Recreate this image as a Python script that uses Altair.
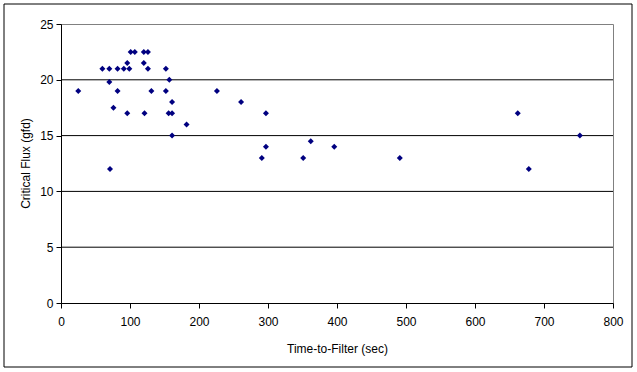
import altair as alt
import pandas as pd

time_to_filter = [25, 60, 70, 70, 71, 76, 82, 82, 91, 96, 99, 96, 101, 107, 120, 126,
                  120, 126, 121, 131, 152, 152, 157, 156, 161, 161, 161, 182, 226, 261,
                  297, 297, 291, 351, 362, 396, 491, 662, 678, 752]
critical_flux = [19, 21, 21, 19.8, 12, 17.5, 21, 19, 21, 21.5, 21, 17, 22.5, 22.5, 22.5, 22.5,
                 21.5, 21, 17, 19, 21, 19, 20, 17, 17, 18, 15, 16, 19, 18,
                 17, 14, 13, 13, 14.5, 14, 13, 17, 12, 15]
grid_values = [5, 10, 15, 20]
x_ticks = [0, 100, 200, 300, 400, 500, 600, 700, 800]
y_ticks = [0, 5, 10, 15, 20, 25]

df = pd.DataFrame({"t": time_to_filter, "f": critical_flux})
grid_df = pd.DataFrame({"g": grid_values})

FONT = "Liberation Sans"
FS = 12

x_scale = alt.Scale(domain=[0, 800], nice=False)
y_scale = alt.Scale(domain=[0, 25], nice=False)

x_axis = alt.Axis(values=x_ticks, grid=False, domainColor="black", tickColor="black",
                  tickSize=5, labelPadding=8, labelFont=FONT, labelFontSize=FS,
                  labelColor="black", titleFont=FONT, titleFontSize=FS,
                  titleFontWeight="normal", titleColor="black", titleY=45,
                  titleBaseline="middle", labelFlush=False)
y_axis = alt.Axis(values=y_ticks, grid=False, domainColor="black", tickColor="black",
                  tickSize=5, labelPadding=3, labelFont=FONT, labelFontSize=FS,
                  labelColor="black", titleFont=FONT, titleFontSize=FS,
                  titleFontWeight="normal", titleColor="black", titleX=-36,
                  titleY=139, titleBaseline="middle", labelFlush=False)

grid = alt.Chart(grid_df).mark_rule(color="black", strokeWidth=1).encode(
    y=alt.Y("g:Q", scale=y_scale, title="Critical Flux (gfd)", axis=y_axis)
)

points = alt.Chart(df).mark_point(
    shape="diamond", filled=True, color="#000080", size=36, opacity=1
).encode(
    x=alt.X("t:Q", scale=x_scale, title="Time-to-Filter (sec)", axis=x_axis),
    y=alt.Y("f:Q", scale=y_scale, title="Critical Flux (gfd)", axis=y_axis),
)

border = alt.Chart(alt.Data(values=[{"a": 1}])).mark_rect(
    fill=None, stroke="black", strokeWidth=1, clip=False
).encode(
    x=alt.value(-57), x2=alt.value(571), y=alt.value(-20), y2=alt.value(343)
)

chart = alt.layer(grid, points, border).properties(
    width=552, height=279,
    autosize=alt.AutoSizeParams(type="none"),
    padding={"left": 61, "top": 24, "right": 24, "bottom": 69},
    background="white",
).configure_view(stroke="#808080", strokeWidth=1)

chart.save("out.html", embed_options={"renderer": "svg", "actions": False})
